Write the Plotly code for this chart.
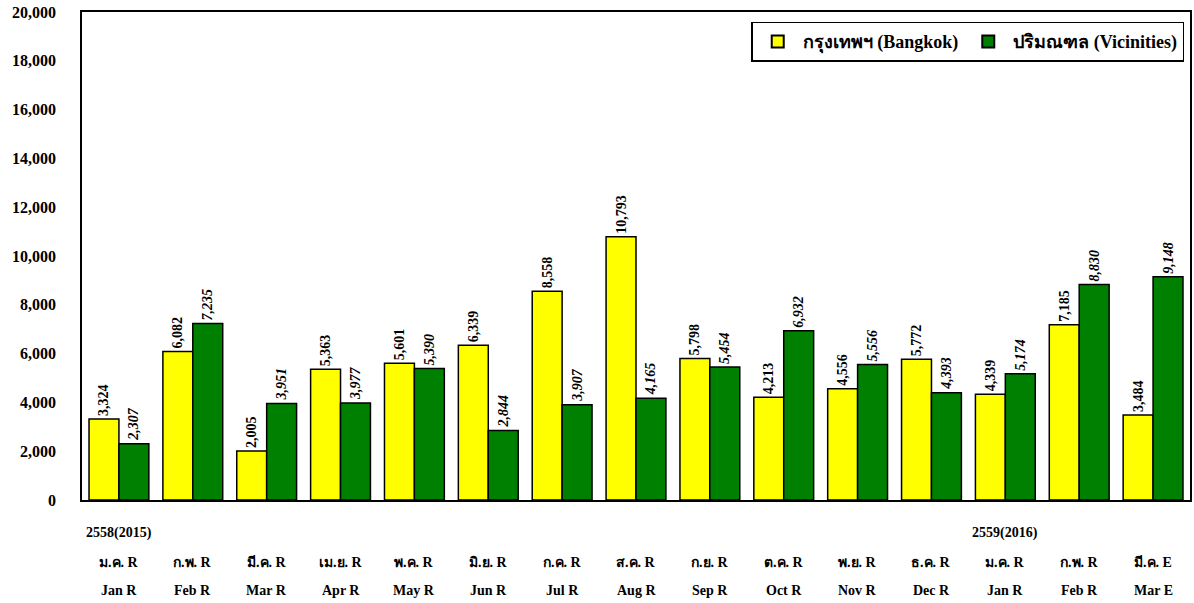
import plotly.graph_objects as go

months_th = ["ม.ค. R", "ก.พ. R", "มี.ค. R", "เม.ย. R", "พ.ค. R", "มิ.ย. R", "ก.ค. R", "ส.ค. R",
             "ก.ย. R", "ต.ค. R", "พ.ย. R", "ธ.ค. R", "ม.ค. R", "ก.พ. R", "มี.ค. E"]
months_en = ["Jan R", "Feb R", "Mar R", "Apr R", "May R", "Jun R", "Jul R", "Aug R",
             "Sep R", "Oct R", "Nov R", "Dec R", "Jan R", "Feb R", "Mar E"]
years = {0: "2558(2015)", 12: "2559(2016)"}
bangkok = [3324, 6082, 2005, 5363, 5601, 6339, 8558, 10793, 5798, 4213, 4556, 5772, 4339, 7185, 3484]
vicinities = [2307, 7235, 3951, 3977, 5390, 2844, 3907, 4165, 5454, 6932, 5556, 4393, 5174, 8830, 9148]
y_ticks = list(range(0, 20001, 2000))

x = list(range(len(months_en)))
FONT = "Liberation Serif"

fig = go.Figure()
fig.add_trace(go.Bar(
    x=x, y=bangkok, name="กรุงเทพฯ (Bangkok)",
    marker=dict(color="#FFFF00", line=dict(color="black", width=1.5)),
    text=[f"{v:,}" for v in bangkok], textposition="outside", textangle=-90,
    constraintext="none",
    textfont=dict(family=FONT, size=14, color="black", weight="bold"),
    cliponaxis=False,
))
fig.add_trace(go.Bar(
    x=x, y=vicinities, name="ปริมณฑล (Vicinities)",
    marker=dict(color="#008000", line=dict(color="black", width=1.5)),
    text=[f"{v:,}" for v in vicinities], textposition="outside", textangle=-90,
    constraintext="none",
    textfont=dict(family=FONT, size=14, color="black", weight="bold", style="italic"),
    cliponaxis=False,
))

ann = []
lab_font = dict(family=FONT, size=14, color="black", weight="bold")
for i in x:
    ann.append(dict(x=i, y=0, xref="x", yref="paper", text=months_th[i], showarrow=False,
                    yanchor="middle", yshift=-62, font=lab_font))
    ann.append(dict(x=i, y=0, xref="x", yref="paper", text=months_en[i], showarrow=False,
                    yanchor="middle", yshift=-90, font=lab_font))
for i, t in years.items():
    ann.append(dict(x=i, y=0, xref="x", yref="paper", text=t, showarrow=False,
                    yanchor="middle", yshift=-33, font=lab_font))

fig.update_layout(
    width=1194, height=603,
    margin=dict(l=82, r=4, t=12, b=103, autoexpand=False),
    paper_bgcolor="white", plot_bgcolor="white",
    barmode="group", bargap=0.19, bargroupgap=0,
    font=dict(family=FONT, color="black"),
    annotations=ann,
    legend=dict(
        x=0.604, y=0.98, xanchor="left", yanchor="top", orientation="h",
        bordercolor="black", borderwidth=1.5, bgcolor="white",
        font=dict(family=FONT, size=18, color="black", weight="bold"),
        itemsizing="constant", itemwidth=40,
    ),
    xaxis=dict(range=[-0.5, len(x) - 0.5], showticklabels=False, showgrid=False,
               showline=True, linecolor="black", linewidth=1.5, mirror=True, ticks=""),
    yaxis=dict(range=[0, 20000], tickvals=y_ticks, ticktext=[f"{v:,}" for v in y_ticks],
               showgrid=False, showline=True, linecolor="black", linewidth=1.5, mirror=True,
               tickfont=dict(family=FONT, size=16, color="black", weight="bold"),
               ticks="", ticklabelstandoff=21, zeroline=False, automargin=False,
               ticklabeloverflow="allow"),
)

fig.write_html("out.html", config={"displayModeBar": False},
               post_script="document.body.style.margin='0';")
